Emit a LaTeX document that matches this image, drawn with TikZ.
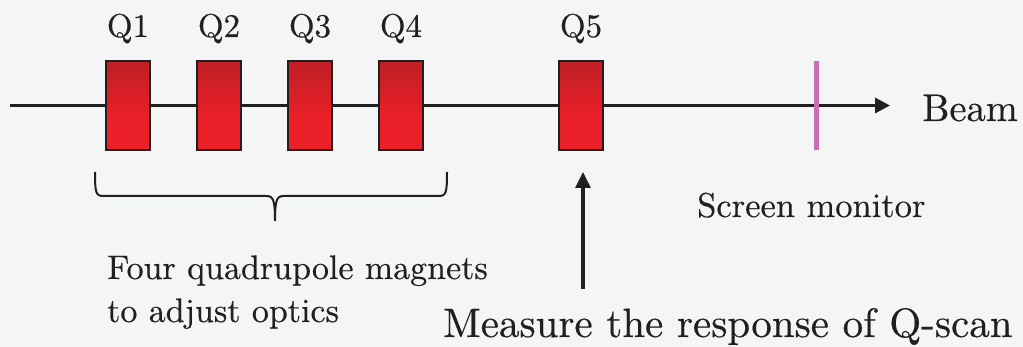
\documentclass[tikz,border=0pt]{standalone}
\usepackage{fontspec}
\newfontfamily\labelfont{lmroman10-regular.otf}[FakeBold=0.4]
\usetikzlibrary{arrows.meta}

\definecolor{bg}{HTML}{F4F6F5}
\definecolor{ink}{HTML}{231F20}
\definecolor{qdark}{HTML}{9E1C22}
\definecolor{qred}{HTML}{EC2028}
\definecolor{monitorpink}{HTML}{CC6EB4}

% magnet fill: bright red in the lower part, darkening towards the top
\pgfdeclareverticalshading{magnet}{100bp}{color(0bp)=(qred); color(42bp)=(qred); color(100bp)=(qdark)}

\tikzset{
  magnetbox/.style={draw=ink, line width=2.5pt, shading=magnet, rectangle,
                    minimum width=44pt, minimum height=89pt, inner sep=0pt},
  qlabel/.style={font=\labelfont\fontsize{33}{40}\selectfont, text=ink, inner sep=0pt, anchor=base},
  caption/.style={font=\labelfont\fontsize{34}{43}\selectfont, text=ink, inner sep=0pt, anchor=base west},
  bigcaption/.style={font=\labelfont\fontsize{41}{48}\selectfont, text=ink, inner sep=0pt, anchor=base west},
  beamline/.style={draw=ink, line width=3.2pt, -{Triangle[length=15pt,width=15pt]}},
  pointer/.style={draw=ink, line width=3.2pt, -{Triangle[length=16pt,width=15pt]}},
  bracket/.style={draw=ink, line width=2pt, line join=round}
}

\begin{document}
\begin{tikzpicture}[x=1pt,y=-1pt]
  \fill[bg] (0,0) rectangle (1023,347);
  \useasboundingbox (0,0) rectangle (1023,347);

  % beam axis
  \coordinate (beamstart) at (10,105.5);
  \coordinate (beamend) at (890,105.5);
  \draw[beamline] (beamstart) -- (beamend);

  % quadrupole magnets
  \node[magnetbox] (q1) at (128,105.5) {};
  \node[magnetbox] (q2) at (219,105.5) {};
  \node[magnetbox] (q3) at (310,105.5) {};
  \node[magnetbox] (q4) at (401,105.5) {};
  \node[magnetbox] (q5) at (581,105.5) {};

  \node[qlabel] (l1) at (128,37) {Q1};
  \node[qlabel] (l2) at (219,37) {Q2};
  \node[qlabel] (l3) at (310,37) {Q3};
  \node[qlabel] (l4) at (401,37) {Q4};
  \node[qlabel] (l5) at (581,37) {Q5};

  % screen monitor
  \coordinate (scrtop) at (816,61);
  \coordinate (scrbot) at (816,150);
  \draw[monitorpink, line width=5pt] (scrtop) -- (scrbot);

  \node[bigcaption, font=\labelfont\fontsize{38.5}{46}\selectfont] (beam) at (922,121) {Beam};
  \node[caption, font=\labelfont\fontsize{34.5}{42}\selectfont] (screen) at (697,217) {Screen monitor};

  % brace under Q1--Q4
  \draw[bracket] (95,172) .. controls (95,194) and (96,196) .. (104,196) -- (266,196)
                 .. controls (273,196) and (275,199) .. (275,221);
  \draw[bracket] (447,172) .. controls (447,194) and (446,196) .. (438,196) -- (284,196)
                 .. controls (277,196) and (275,199) .. (275,221);

  \node[caption] (four) at (107,279) {Four quadrupole magnets};
  \node[caption] (optics) at (107,322) {to adjust optics};

  % pointer to Q5
  \coordinate (ptrfoot) at (583,289);
  \coordinate (ptrtip) at (583,172);
  \draw[pointer] (ptrfoot) -- (ptrtip);

  \node[bigcaption] (measure) at (443,337) {Measure the response of Q-scan};
\end{tikzpicture}
\end{document}
